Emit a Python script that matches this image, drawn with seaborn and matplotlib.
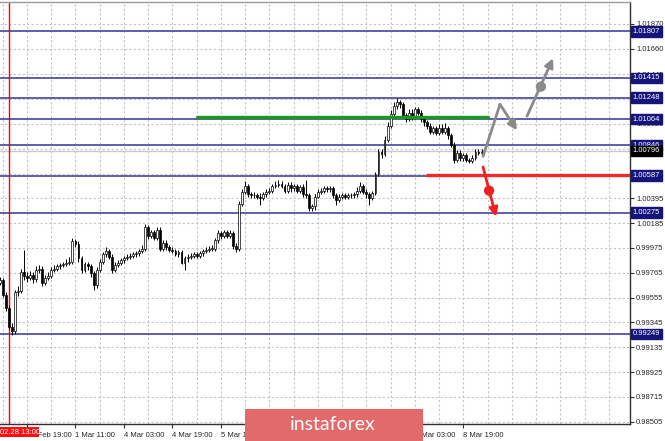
import matplotlib
matplotlib.use("Agg")
import matplotlib.pyplot as plt
from matplotlib.patches import Rectangle
import numpy as np
import pandas as pd
import seaborn as sns

# hourly candles, 28 Feb 10:00 ... 9 Mar 01:00
first_open = 0.9968
close = [
    0.9970, 0.9958, 0.9947, 0.9931, 0.9927, 0.9960, 0.9961, 0.9977, 0.9974, 0.9972,
    0.9975, 0.9971, 0.9979, 0.9980, 0.9968, 0.9972, 0.9974, 0.9979, 0.9980, 0.9982,
    0.9983, 0.9984, 0.9985, 0.9986, 1.0003, 1.0001, 0.9989, 0.9979, 0.9984, 0.9982,
    0.9976, 0.9966, 0.9979, 0.9986, 0.9992, 0.9995, 0.9990, 0.9979, 0.9983, 0.9985,
    0.9987, 0.9989, 0.9990, 0.9991, 0.9992, 0.9993, 0.9995, 0.9997, 1.0015, 1.0008,
    1.0011, 1.0006, 1.0013, 0.9997, 1.0002, 0.9998, 0.9996, 0.9995, 0.9992, 0.9994,
    0.9985, 0.9989, 0.9990, 0.9991, 0.9992, 0.9991, 0.9993, 0.9995, 0.9996, 0.9997,
    0.9997, 1.0004, 1.0010, 1.0008, 1.0011, 1.0008, 1.0010, 0.9999, 0.9997, 1.0035,
    1.0045, 1.0050, 1.0043, 1.0042, 1.0042, 1.0041, 1.0040, 1.0043, 1.0045, 1.0046,
    1.0050, 1.0051, 1.0052, 1.0050, 1.0046, 1.0051, 1.0048, 1.0050, 1.0046, 1.0049,
    1.0043, 1.0042, 1.0031, 1.0033, 1.0041, 1.0045, 1.0046, 1.0048, 1.0047, 1.0048,
    1.0042, 1.0038, 1.0041, 1.0042, 1.0041, 1.0042, 1.0042, 1.0043, 1.0046, 1.0050,
    1.0045, 1.0043, 1.0040, 1.0044, 1.0060, 1.0079, 1.0077, 1.0089, 1.0101, 1.0111,
    1.0118, 1.0121, 1.0119, 1.0110, 1.0107, 1.0112, 1.0109, 1.0115, 1.0112, 1.0107,
    1.0104, 1.0101, 1.0096, 1.0099, 1.0095, 1.0099, 1.0096, 1.0099, 1.0093, 1.0085,
    1.0072, 1.0078, 1.0074, 1.0076, 1.0072, 1.0071, 1.0074, 1.0079, 1.0078, 1.0079,
]
high = [
    0.9973, 0.9972, 0.9960, 0.9949, 0.9934, 0.9962, 0.9965, 0.9980, 0.9996, 0.9977,
    0.9978, 0.9977, 0.9982, 0.9983, 0.9982, 0.9975, 0.9977, 0.9981, 0.9983, 0.9984,
    0.9985, 0.9986, 0.9988, 0.9990, 1.0006, 1.0005, 1.0003, 0.9991, 0.9986, 0.9986,
    0.9984, 0.9978, 0.9981, 0.9988, 0.9994, 0.9998, 0.9997, 0.9992, 0.9986, 0.9987,
    0.9989, 0.9991, 0.9992, 0.9993, 0.9994, 0.9995, 0.9997, 1.0000, 1.0018, 1.0017,
    1.0013, 1.0013, 1.0015, 1.0015, 1.0004, 1.0004, 1.0000, 0.9998, 0.9997, 0.9996,
    0.9996, 0.9991, 0.9992, 0.9993, 0.9994, 0.9994, 0.9995, 0.9997, 0.9998, 0.9999,
    1.0000, 1.0006, 1.0013, 1.0012, 1.0013, 1.0013, 1.0013, 1.0012, 1.0002, 1.0037,
    1.0047, 1.0054, 1.0052, 1.0045, 1.0045, 1.0044, 1.0044, 1.0045, 1.0047, 1.0048,
    1.0052, 1.0054, 1.0055, 1.0054, 1.0052, 1.0053, 1.0053, 1.0052, 1.0052, 1.0051,
    1.0052, 1.0055, 1.0044, 1.0035, 1.0043, 1.0047, 1.0048, 1.0050, 1.0050, 1.0050,
    1.0050, 1.0044, 1.0043, 1.0044, 1.0044, 1.0044, 1.0044, 1.0045, 1.0049, 1.0053,
    1.0052, 1.0047, 1.0045, 1.0046, 1.0062, 1.0081, 1.0081, 1.0092, 1.0104, 1.0114,
    1.0121, 1.0124, 1.0123, 1.0121, 1.0112, 1.0115, 1.0115, 1.0117, 1.0117, 1.0114,
    1.0109, 1.0106, 1.0103, 1.0101, 1.0101, 1.0102, 1.0102, 1.0103, 1.0101, 1.0095,
    1.0087, 1.0080, 1.0080, 1.0078, 1.0078, 1.0074, 1.0076, 1.0081, 1.0081, 1.0081,
]
low = [
    0.9966, 0.9956, 0.9944, 0.9929, 0.9924, 0.9925, 0.9957, 0.9959, 0.9970, 0.9969,
    0.9970, 0.9968, 0.9969, 0.9976, 0.9965, 0.9966, 0.9970, 0.9972, 0.9977, 0.9978,
    0.9980, 0.9981, 0.9982, 0.9983, 0.9984, 0.9998, 0.9986, 0.9976, 0.9977, 0.9979,
    0.9973, 0.9962, 0.9964, 0.9977, 0.9984, 0.9990, 0.9988, 0.9976, 0.9977, 0.9981,
    0.9983, 0.9985, 0.9987, 0.9988, 0.9989, 0.9990, 0.9991, 0.9993, 0.9995, 1.0005,
    1.0006, 1.0004, 1.0004, 0.9995, 0.9995, 0.9996, 0.9994, 0.9993, 0.9991, 0.9990,
    0.9984, 0.9979, 0.9986, 0.9988, 0.9989, 0.9989, 0.9989, 0.9991, 0.9993, 0.9994,
    0.9995, 0.9995, 1.0002, 1.0005, 1.0006, 1.0006, 1.0006, 0.9997, 0.9994, 0.9995,
    1.0033, 1.0043, 1.0041, 1.0040, 1.0040, 1.0039, 1.0034, 1.0038, 1.0041, 1.0043,
    1.0044, 1.0048, 1.0049, 1.0048, 1.0044, 1.0044, 1.0045, 1.0046, 1.0044, 1.0044,
    1.0041, 1.0040, 1.0029, 1.0029, 1.0030, 1.0040, 1.0043, 1.0044, 1.0045, 1.0045,
    1.0040, 1.0034, 1.0036, 1.0039, 1.0039, 1.0039, 1.0040, 1.0040, 1.0041, 1.0044,
    1.0043, 1.0040, 1.0034, 1.0038, 1.0042, 1.0058, 1.0074, 1.0075, 1.0087, 1.0099,
    1.0109, 1.0115, 1.0116, 1.0108, 1.0104, 1.0105, 1.0106, 1.0107, 1.0110, 1.0104,
    1.0101, 1.0098, 1.0094, 1.0094, 1.0093, 1.0093, 1.0094, 1.0094, 1.0090, 1.0083,
    1.0069, 1.0070, 1.0071, 1.0071, 1.0070, 1.0069, 1.0069, 1.0072, 1.0076, 1.0077,
]

levels = [1.01807, 1.01415, 1.01248, 1.01064, 1.00846, 1.00587, 1.00275, 0.99249]
level_labels = ["1.01807", "1.01415", "1.01248", "1.01064", "1.00846", "1.00587", "1.00275", "0.99249"]
bid_price = 1.00796
bid_label = "1.00796"

# grid prices on the right scale; labels hidden by the level boxes are left blank
price_ticks = [0.98505, 0.98715, 0.98925, 0.99135, 0.99345, 0.99555, 0.99765, 0.99975, 1.00185,
               1.00395, 1.00605, 1.00815, 1.01025, 1.01235, 1.01445, 1.01660, 1.01870]
price_tick_labels = ["0.98505", "0.98715", "0.98925", "0.99135", "0.99345", "0.99555", "0.99765",
                     "0.99975", "1.00185", "1.00395", "", "", "1.01025", "",
                     "1.01445", "1.01660", "1.01870"]
time_ticks = [9, 25, 41, 57, 73, 89, 105, 121, 137, 153]
time_labels = ["28 Feb 19:00", "1 Mar 11:00", "4 Mar 03:00", "4 Mar 19:00", "5 Mar 11:00",
               "6 Mar 03:00", "6 Mar 19:00", "7 Mar 11:00", "8 Mar 03:00", "8 Mar 19:00"]
marker_bar = 3  # 02.28 13:00

# drawn scenario (bar index, price)
green_x, green_y = [65, 161], [1.0108, 1.0108]
red_x, red_y = [141, 208], [1.0059, 1.0059]
up_x, up_y = [159.5, 165.1, 170.7], [1.0075, 1.0119, 1.0097]
up2_x, up2_y, up2_dot = [174.0, 182.6], [1.0109, 1.0158], (178.6, 1.0134)
dn_x, dn_y, dn_dot = [159.5, 163.8], [1.0066, 1.0024], (161.5, 1.0046)

sns.set_theme(style="white")
plt.rcParams["font.family"] = ["Liberation Sans", "DejaVu Sans"]

df = pd.DataFrame({"close": close, "high": high, "low": low})
df["open"] = [first_open] + close[:-1]
df["bar"] = np.arange(len(df))
df["bull"] = df["close"] >= df["open"]

fig = plt.figure(figsize=(6.65, 4.41), dpi=100)
ax = fig.add_axes([0, 17 / 441, 630 / 665, 422 / 441])
ax.set_xlim(0.1, 208.0)
ax.set_ylim(0.984856, 1.020561)

grid_kw = dict(color="#c4c4c4", lw=0.8, ls=(0, (2, 2)), zorder=0)
for gx in range(1, 208, 8):
    ax.axvline(gx, **grid_kw)
for gy in price_ticks:
    ax.axhline(gy, **grid_kw)

ax.axvline(marker_bar, color="#ff0000", lw=1.0, zorder=2.5)
for lv in levels:
    ax.axhline(lv, color="#5252a8", lw=1.3, zorder=2)
ax.axhline(bid_price, color="#c8c8c8", lw=1.0, zorder=1)

# candles
ax.vlines(df["bar"], df["low"], df["high"], color="black", lw=0.7, zorder=3)
body_lo = df[["open", "close"]].min(axis=1)
body_h = (df["close"] - df["open"]).abs().clip(lower=0.00003)
ax.bar(df["bar"], body_h, bottom=body_lo, width=0.62,
       color=np.where(df["bull"], "#ffffff", "#000000"), edgecolor="black", linewidth=0.5, zorder=4)

ax.plot(green_x, green_y, color="#1a9a1a", lw=2.4, zorder=5)
ax.plot(red_x, red_y, color="#ee2a2a", lw=2.4, zorder=5)

gray = "#8a8a8a"
sns.lineplot(x=up_x[:2], y=up_y[:2], ax=ax, color=gray, lw=2.0, zorder=6)
arrow = dict(arrowstyle="-|>", lw=2.0, mutation_scale=13, shrinkA=0, shrinkB=0)
ax.annotate("", xy=(up_x[2], up_y[2]), xytext=(up_x[1], up_y[1]),
            arrowprops=dict(color=gray, **arrow), zorder=6)
ax.annotate("", xy=(up2_x[1], up2_y[1]), xytext=(up2_x[0], up2_y[0]),
            arrowprops=dict(color=gray, **arrow), zorder=6)
ax.annotate("", xy=(dn_x[1], dn_y[1]), xytext=(dn_x[0], dn_y[0]),
            arrowprops=dict(color="#ee2020", **arrow), zorder=6)
sns.scatterplot(x=[up2_dot[0]], y=[up2_dot[1]], ax=ax, color=gray, s=55, edgecolor="none", zorder=7)
sns.scatterplot(x=[dn_dot[0]], y=[dn_dot[1]], ax=ax, color="#ee2020", s=55, edgecolor="none", zorder=7)

# axes frame and ticks
ax.spines["left"].set_visible(False)
ax.spines["top"].set_color("#9a9a9a")
ax.spines["right"].set_color("#303030")
ax.spines["bottom"].set_color("#303030")
for s in ["top", "right", "bottom"]:
    ax.spines[s].set_linewidth(1.0)

ax.yaxis.tick_right()
ax.set_yticks(price_ticks)
ax.set_yticklabels(price_tick_labels)
ax.set_xticks(time_ticks)
ax.set_xticklabels(time_labels, ha="left")
ax.tick_params(axis="both", length=3, width=0.8, color="#303030", labelsize=5.5, pad=1.5,
               direction="out", bottom=True, right=True, left=False)
ax.tick_params(axis="x", pad=2.5)
ax.set_xlabel("")
ax.set_ylabel("")

box_kw = dict(transform=ax.get_yaxis_transform(), fontsize=5.5, color="white", va="center",
              ha="left", clip_on=False, zorder=20)
for lv, lab in zip(levels, level_labels):
    ax.text(1.004, lv, lab, bbox=dict(boxstyle="square,pad=0.22", fc="#14147a", ec="#14147a"), **box_kw)
ax.text(1.004, bid_price, bid_label, bbox=dict(boxstyle="square,pad=0.22", fc="black", ec="black"), **box_kw)

# red time marker label
fig.patches.append(Rectangle((0, 4 / 441), 39 / 665, 10 / 441, transform=fig.transFigure,
                             fc="#ff1010", ec="none", zorder=30))
fig.text(19.5 / 665, 9 / 441, "02.28 13:00", color="white", fontsize=5.5,
         ha="center", va="center", zorder=31)

# watermark
fig.patches.append(Rectangle((245 / 665, 0), 178 / 665, 32 / 441, transform=fig.transFigure,
                             fc="#e26a6a", ec="none", zorder=30))
fig.text(333 / 665, 17 / 441, "instaforex", color="white", fontsize=14, family="Lato",
         ha="center", va="center", zorder=31)

fig.savefig("out.png", dpi=100)
